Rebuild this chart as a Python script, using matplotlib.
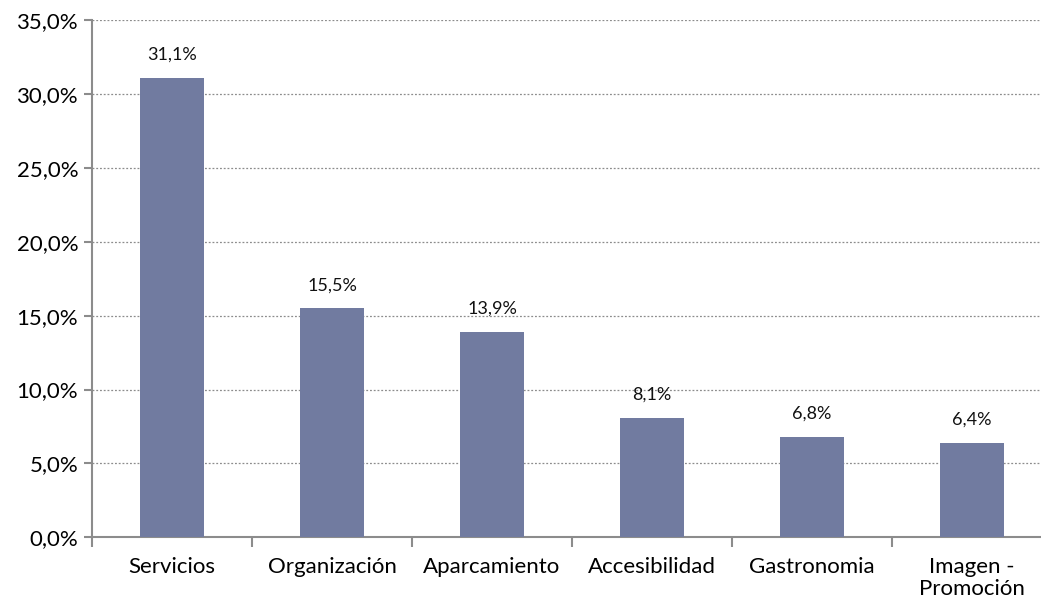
import numpy as np
import matplotlib
matplotlib.use("Agg")
import matplotlib.pyplot as plt

plt.rcParams['font.family'] = ['Lato', 'DejaVu Sans']

categorias = ["Servicios", "Organización", "Aparcamiento", "Accesibilidad",
              "Gastronomia", "Imagen -\nPromoción"]
valores = [31.1, 15.5, 13.9, 8.1, 6.8, 6.4]
ticks_y = [0, 5, 10, 15, 20, 25, 30, 35]

fig = plt.figure(figsize=(10.41, 6.04), dpi=100)
# the plot area runs past the right edge of the picture, as in the original
ax = fig.add_axes([0.0884, 0.1104, 0.9222, 0.8565])

x = np.arange(len(categorias))
ax.bar(x, valores, width=0.4, color='#717BA0', zorder=3)

for xi, v in zip(x, valores):
    ax.text(xi, v + 1.0, f"{v:.1f}%".replace('.', ','), ha='center', va='bottom',
            fontsize=13, color='#111111')

ax.set_xlim(-0.5, len(categorias) - 0.5)
ax.set_ylim(0, 35)
ax.set_yticks(ticks_y)
ax.set_yticklabels([f"{t:.1f}%".replace('.', ',') for t in ticks_y], fontsize=16)
ax.yaxis.grid(True, linestyle=(0, (1.5, 1.5)), color='#8c8c8c', linewidth=0.9, zorder=0)

ax.set_xticks(np.arange(-0.5, len(categorias) + 0.5, 1))
ax.set_xticklabels([])
ax.set_xticks(x, minor=True)
ax.set_xticklabels(categorias, minor=True, fontsize=16, linespacing=1.15)
ax.tick_params(axis='x', which='minor', length=0, pad=14)
ax.tick_params(axis='x', which='major', length=7, color='#8c8c8c', width=1.5)
ax.tick_params(axis='y', length=6, color='#8c8c8c', width=1.5, pad=4)

for s in ['top', 'right']:
    ax.spines[s].set_visible(False)
for s in ['left', 'bottom']:
    ax.spines[s].set_color('#8c8c8c')
    ax.spines[s].set_linewidth(1.5)

fig.savefig("out.png", dpi=100)
